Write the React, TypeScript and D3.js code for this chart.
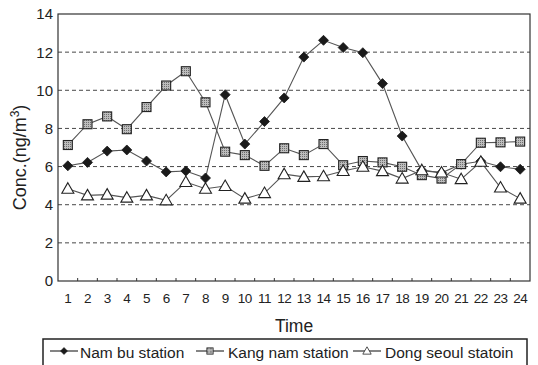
import React from "react";
import * as d3 from "d3";

const hours = d3.range(1, 25).map(String);
const namBu = [6.04, 6.22, 6.81, 6.87, 6.29, 5.72, 5.77, 5.4, 9.77, 7.18, 8.36, 9.6, 11.74, 12.62, 12.24, 11.97, 10.35, 7.6, 5.8, 5.67, 6.12, 6.28, 5.99, 5.86];
const kangNam = [7.13, 8.22, 8.63, 7.96, 9.12, 10.25, 11.0, 9.37, 6.78, 6.6, 6.04, 6.96, 6.6, 7.18, 6.07, 6.29, 6.22, 5.99, 5.55, 5.37, 6.13, 7.25, 7.27, 7.31];
const dongSeoul = [4.84, 4.49, 4.53, 4.37, 4.49, 4.23, 5.19, 4.84, 4.98, 4.32, 4.61, 5.6, 5.46, 5.49, 5.77, 5.99, 5.76, 5.37, 5.81, 5.69, 5.34, 6.25, 4.9, 4.32];
const yTicks = [0, 2, 4, 6, 8, 10, 12, 14];
const seriesNames = ["Nam bu station", "Kang nam station", "Dong seoul statoin"];

const W = 538;
const H = 365;
const m = { left: 58, right: 8, top: 14, bottom: 84 };
const font = "Arial, 'Liberation Sans', sans-serif";

function Marker({ kind, x, y }: { kind: number; x: number; y: number }) {
  if (kind === 0) {
    const r = 5;
    return <path d={`M${x},${y - r}L${x + r},${y}L${x},${y + r}L${x - r},${y}Z`} fill="#1a1a1a" stroke="#1a1a1a" strokeWidth={0.8} />;
  }
  if (kind === 1) {
    return <rect x={x - 4.5} y={y - 4.5} width={9} height={9} fill="url(#dots)" stroke="#222" strokeWidth={1.1} />;
  }
  const s = 6;
  return <path d={`M${x},${y - s}L${x + s},${y + 4.5}L${x - s},${y + 4.5}Z`} fill="#fff" stroke="#222" strokeWidth={1.1} />;
}

export default function App() {
  const x = d3.scaleBand().domain(hours).range([m.left, W - m.right]);
  const y = d3.scaleLinear().domain([0, 14]).range([H - m.bottom, m.top]);
  const cx = (h: string) => (x(h) as number) + x.bandwidth() / 2;
  const line = d3
    .line<number>()
    .x((_, i) => cx(hours[i]))
    .y((d) => y(d));
  const all = [namBu, kangNam, dongSeoul];
  const x0 = m.left;
  const x1 = W - m.right;

  // legend: line start, text start
  const legendItems = [
    { lx: 50, tx: 80 },
    { lx: 196, tx: 228 },
    { lx: 353, tx: 385 },
  ];

  return (
    <svg width={W} height={H} style={{ position: "absolute", left: 0, top: 0, background: "#fff" }} fontFamily={font}>
      <defs>
        <pattern id="dots" width="2" height="2" patternUnits="userSpaceOnUse">
          <rect width="2" height="2" fill="#bdbdbd" />
          <rect width="1" height="1" fill="#6e6e6e" />
        </pattern>
      </defs>

      {yTicks.slice(1, -1).map((t) => (
        <line key={t} x1={x0} x2={x1} y1={y(t)} y2={y(t)} stroke="#333" strokeWidth={0.9} strokeDasharray="4,3" />
      ))}
      <rect x={x0} y={y(14)} width={x1 - x0} height={y(0) - y(14)} fill="none" stroke="#333" strokeWidth={1.2} />

      {hours.slice(1).map((h) => (
        <line key={h} x1={x(h)} x2={x(h)} y1={y(0)} y2={y(0) - 3} stroke="#333" strokeWidth={1} />
      ))}

      {yTicks.map((t) => (
        <text key={t} x={53} y={y(t)} dy="0.36em" textAnchor="end" fontSize={15} fill="#222">
          {t}
        </text>
      ))}
      {hours.map((h) => (
        <text key={h} x={cx(h)} y={303} textAnchor="middle" fontSize={13.5} fill="#222" letterSpacing={-0.5}>
          {h}
        </text>
      ))}
      <text x={(x0 + x1) / 2} y={332} textAnchor="middle" fontSize={17.5} fill="#222">
        Time
      </text>
      <text transform={`translate(26,${(y(0) + y(14)) / 2 + 10}) rotate(-90)`} textAnchor="middle" fontSize={18} fill="#222">
        Conc.(ng/m<tspan dy="-7" fontSize={12}>3</tspan>
        <tspan dy="7">)</tspan>
      </text>

      {all.map((s, k) => (
        <g key={k}>
          <path d={line(s) ?? ""} fill="none" stroke="#555" strokeWidth={1.1} />
          {s.map((v, i) => (
            <Marker key={i} kind={k} x={cx(hours[i])} y={y(v)} />
          ))}
        </g>
      ))}

      <rect x={43} y={339} width={484} height={32} fill="none" stroke="#222" strokeWidth={1.5} />
      {legendItems.map((it, k) => (
        <g key={k}>
          <line x1={it.lx} x2={it.lx + 28} y1={351} y2={351} stroke="#333" strokeWidth={1.2} />
          <g transform={`translate(${it.lx + 14},351) scale(0.7)`}>
            <Marker kind={k} x={0} y={0} />
          </g>
          <text x={it.tx} y={358} fontSize={15.5} fill="#222">
            {seriesNames[k]}
          </text>
        </g>
      ))}
    </svg>
  );
}
